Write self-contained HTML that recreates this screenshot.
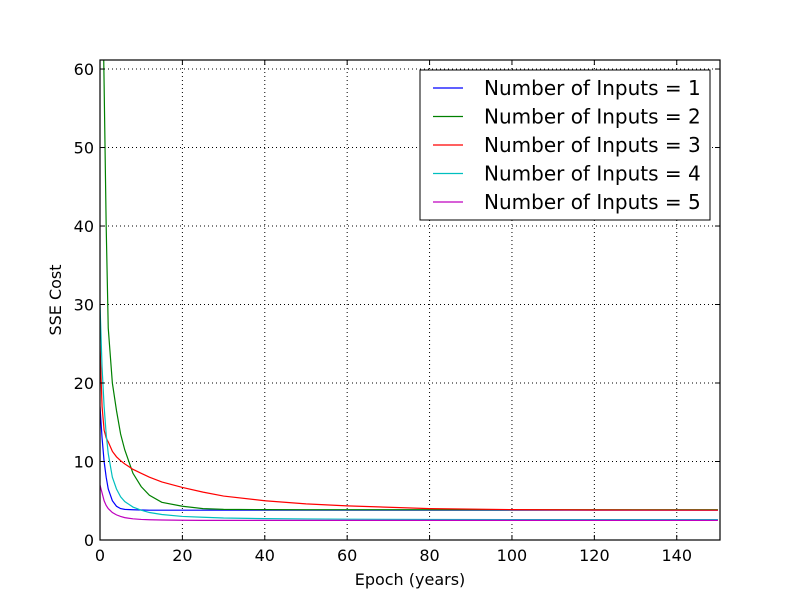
<!DOCTYPE html>
<html><head><meta charset="utf-8"><style>body{margin:0;background:#fff}svg{display:block;font-family:"DejaVu Sans","Liberation Sans",sans-serif}</style></head>
<body>
<svg id="chart" width="800" height="600">
<rect width="800" height="600" fill="#fff"/>
<defs><clipPath id="plotclip"><rect x="100" y="60" width="620" height="480"/></clipPath></defs>
<g id="grid"></g><g id="series" clip-path="url(#plotclip)"></g><g id="axes"></g><g id="legend"></g>
</svg>
<script>
const xs = [0,0.5,1,1.5,2,3,4,5,6,8,10,12,15,20,25,30,40,50,60,80,100,120,150];
const s1 = [17,13,10,8,6.5,5,4.3,4.0,3.9,3.85,3.82,3.8,3.8,3.8,3.8,3.8,3.8,3.8,3.8,3.8,3.8,3.8,3.8];
const s2 = [110,75,58,40,27,20,16.5,13.5,11.5,8.5,6.8,5.7,4.8,4.3,4.0,3.9,3.87,3.85,3.85,3.85,3.85,3.85,3.85];
const s3 = [24.8,17,14,13,12.5,11.3,10.6,10.1,9.7,9.0,8.5,8.0,7.4,6.7,6.1,5.6,5.0,4.6,4.35,4.0,3.87,3.82,3.8];
const s4 = [30,22,17,13.5,11,8,6.5,5.5,4.9,4.2,3.8,3.5,3.25,3.0,2.9,2.8,2.72,2.68,2.65,2.62,2.6,2.6,2.6];
const s5 = [7,6,5,4.4,4,3.5,3.2,3.0,2.85,2.7,2.62,2.58,2.55,2.52,2.5,2.5,2.5,2.5,2.5,2.5,2.5,2.5,2.5];
const seriesList = [s1,s2,s3,s4,s5];
const names = ["Number of Inputs = 1","Number of Inputs = 2","Number of Inputs = 3","Number of Inputs = 4","Number of Inputs = 5"];
const colors = ["#0000ff","#008000","#ff0000","#00bfbf","#bf00bf"];
const xTicks = [0,20,40,60,80,100,120,140];
const yTicks = [0,10,20,30,40,50,60];
const L=100,R=720,T=60,B=540,XMAX=150.5,YMAX=61.15;
const sx=v=>L+v/XMAX*(R-L), sy=v=>B-v/YMAX*(B-T);
const NS="http://www.w3.org/2000/svg";
function mk(tag,attrs,parent,text){const e=document.createElementNS(NS,tag);for(const k in attrs)e.setAttribute(k,attrs[k]);if(text!==undefined)e.textContent=text;parent.appendChild(e);return e;}
const grid=document.getElementById('grid'),axes=document.getElementById('axes'),ser=document.getElementById('series'),leg=document.getElementById('legend');
xTicks.forEach(t=>{const x=sx(t);
 if(t>0){const g=mk('line',{x1:x,x2:x,y1:T,y2:B,stroke:'#000','stroke-dasharray':'1,3','stroke-width':1},grid);
 
 }
 mk('line',{x1:x,x2:x,y1:B,y2:B-5,stroke:'#000'},axes);
 mk('line',{x1:x,x2:x,y1:T,y2:T+5,stroke:'#000'},axes);
 const lb=mk('text',{x:x,y:B+21,'text-anchor':'middle','font-size':16},axes,String(t));
 
 
});
yTicks.forEach(t=>{const y=sy(t);
 if(t>0){const g=mk('line',{x1:L,x2:R,y1:y,y2:y,stroke:'#000','stroke-dasharray':'1,3','stroke-width':1},grid);
 
 }
 mk('line',{x1:L,x2:L+5,y1:y,y2:y,stroke:'#000'},axes);
 mk('line',{x1:R,x2:R-5,y1:y,y2:y,stroke:'#000'},axes);
 const lb=mk('text',{x:L-6,y:y+6,'text-anchor':'end','font-size':16},axes,String(t));
 
 
});
const frame=mk('rect',{x:L,y:T,width:R-L,height:B-T,fill:'none',stroke:'#000','stroke-width':1.2},axes);


const xl=mk('text',{x:410,y:585,'text-anchor':'middle','font-size':16},axes,'Epoch (years)');


const yl=mk('text',{x:61,y:300,'text-anchor':'middle','font-size':16,transform:'rotate(-90 61 300)'},axes,'SSE Cost');


seriesList.forEach((s,i)=>{
 const d=s.map((v,j)=>(j?'L':'M')+sx(xs[j]).toFixed(2)+','+sy(v).toFixed(2)).join(' ');
 const p=mk('path',{d:d,fill:'none',stroke:colors[i],'stroke-width':1.2},ser);
 
 
});
const box=mk('rect',{x:420,y:70,width:290,height:150,fill:'#fff',stroke:'#000','stroke-width':1},leg);


names.forEach((n,i)=>{const y=88+i*28.5;
 const ln=mk('line',{x1:433,x2:463,y1:y,y2:y,stroke:colors[i],'stroke-width':1.2},leg);
 
 
 const tx=mk('text',{x:484,y:y+7,'font-size':20},leg,n);
 
 
});
</script>
</body></html>
